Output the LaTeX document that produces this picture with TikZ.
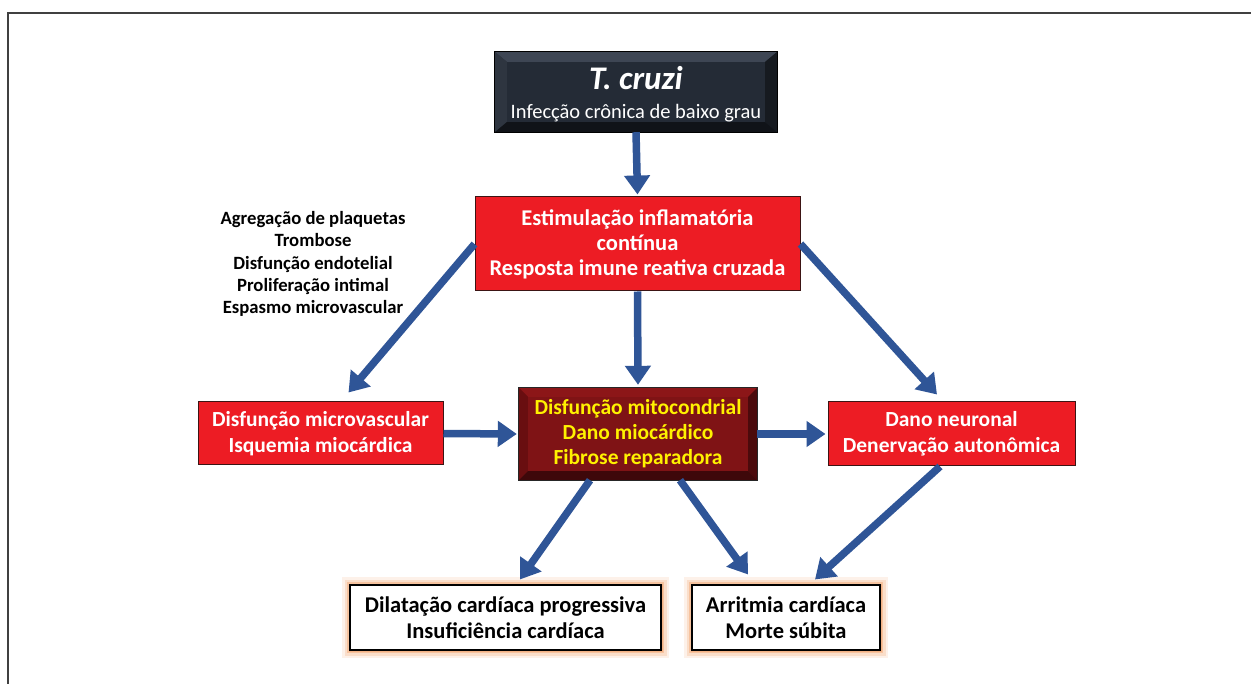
\documentclass[tikz,border=0pt]{standalone}
\usepackage{fontspec}
\setmainfont{Carlito}
\usetikzlibrary{arrows.meta,calc}
\definecolor{arrblue}{HTML}{2F5597}
\definecolor{boxred}{HTML}{ED1C24}
\definecolor{mitored}{HTML}{7F1315}
\definecolor{darkbox}{HTML}{242B36}
\definecolor{glowc}{HTML}{F4B183}
\definecolor{txtyellow}{HTML}{FFF200}
\begin{document}
\begin{tikzpicture}[x=1pt,y=-1pt,
  redbox/.style={draw={rgb,255:red,60;green,20;blue,20},line width=1pt,fill=boxred,text=white,
    font=\fontsize{22.5}{25}\selectfont\bfseries,align=center,inner sep=0pt},
  smallred/.style={redbox,font=\fontsize{21.5}{26}\selectfont\bfseries},
  glowbox/.style={draw=black,line width=1.1pt,fill=white,text=black,
    font=\fontsize{22.5}{26}\selectfont\bfseries,align=center,inner sep=0pt,
    preaction={draw=glowc,line width=16pt,draw opacity=0.18},
    preaction={draw=glowc,line width=11pt,draw opacity=0.3},
    preaction={draw=glowc,line width=6pt,draw opacity=0.6},
    preaction={draw=glowc,line width=3pt}},
  flow/.style={draw=arrblue,line width=7.5pt,-{Triangle[length=19pt,width=25pt]}},
  every node/.style={inner sep=0pt}]
\useasboundingbox (0,0) rectangle (1251,684);
\draw[line width=1.4pt,color=black!75] (8,684) -- (8,13) -- (1251,13);

% T. cruzi box with bevel
\node[fill=darkbox,minimum width=282pt,minimum height=80pt] (tc) at (636,92) {};
\fill[color={rgb,255:red,62;green,70;blue,84}] (tc.north west) -- (tc.north east) -- ($(tc.north east)+(-12,10)$) -- ($(tc.north west)+(12,10)$) -- cycle;
\fill[color={rgb,255:red,46;green,53;blue,64}] (tc.north west) -- ($(tc.north west)+(12,10)$) -- ($(tc.south west)+(12,-10)$) -- (tc.south west) -- cycle;
\fill[color={rgb,255:red,22;green,26;blue,32}] (tc.north east) -- ($(tc.north east)+(-12,10)$) -- ($(tc.south east)+(-12,-10)$) -- (tc.south east) -- cycle;
\fill[color={rgb,255:red,16;green,19;blue,24}] (tc.south west) -- ($(tc.south west)+(12,-10)$) -- ($(tc.south east)+(-12,-10)$) -- (tc.south east) -- cycle;
\draw[line width=1pt,black] (tc.north west) rectangle (tc.south east);
\node[text=white,align=center,font=\fontsize{20.5}{24}\selectfont] (tctext) at (636,94)
  {{\fontsize{33}{34}\selectfont\bfseries\itshape T. cruzi}\\[5pt]Infecção crônica de baixo grau};

% red boxes
\node[redbox,minimum width=325pt,minimum height=94pt] (inf) at (637.5,244)
  {Estimulação inflamatória\\contínua\\Resposta imune reativa cruzada};
\node[smallred,minimum width=245pt,minimum height=63pt] (mv) at (320.5,433.5)
  {Disfunção microvascular\\Isquemia miocárdica};
\node[smallred,minimum width=247pt,minimum height=64pt] (neu) at (951.5,434)
  {Dano neuronal\\Denervação autonômica};

% mito box with bevel
\node[fill=mitored,minimum width=238pt,minimum height=92pt] (mito) at (638,434) {};
\fill[color={rgb,255:red,140;green,22;blue,24}] (mito.north west) -- (mito.north east) -- ($(mito.north east)+(-9,9)$) -- ($(mito.north west)+(9,9)$) -- cycle;
\fill[color={rgb,255:red,105;green,14;blue,16}] (mito.north west) -- ($(mito.north west)+(9,9)$) -- ($(mito.south west)+(9,-9)$) -- (mito.south west) -- cycle;
\fill[color={rgb,255:red,75;green,10;blue,12}] (mito.north east) -- ($(mito.north east)+(-9,9)$) -- ($(mito.south east)+(-9,-9)$) -- (mito.south east) -- cycle;
\fill[color={rgb,255:red,62;green,8;blue,10}] (mito.south west) -- ($(mito.south west)+(9,-9)$) -- ($(mito.south east)+(-9,-9)$) -- (mito.south east) -- cycle;
\draw[line width=1.2pt,color=black!85] (mito.north west) rectangle (mito.south east);
\node[text=txtyellow,align=center,font=\fontsize{21.5}{25}\selectfont\bfseries] (mitotext) at (638,434)
  {Disfunção mitocondrial\\Dano miocárdico\\Fibrose reparadora};

% outcome boxes
\node[glowbox,minimum width=311pt,minimum height=65pt] (dil) at (505.5,617.5)
  {Dilatação cardíaca progressiva\\Insuficiência cardíaca};
\node[glowbox,minimum width=188pt,minimum height=65pt] (arr) at (786,617.5)
  {Arritmia cardíaca\\Morte súbita};

% side text
\node[align=center,font=\fontsize{18.7}{22.3}\selectfont\bfseries] (mech) at (313,264)
  {Agregação de plaquetas\\Trombose\\Disfunção endotelial\\Proliferação intimal\\Espasmo microvascular};

% arrows
\draw[flow] (tc.south) -- ($(inf.north)+(0,-2)$);
\draw[flow] (inf.south) -- ($(mito.north)+(0,-3)$);
\draw[flow] (inf.west) -- ($(mv.north)+(28,-9)$);
\draw[flow] (inf.east) -- ($(neu.north)+(-14.5,-7)$);
\draw[flow] (mv.east) -- ($(mito.west)+(-2,0)$);
\draw[flow] (mito.east) -- ($(neu.west)+(-2,0)$);
\draw[flow] ($(mito.south)+(-48,0)$) -- ($(dil.north)+(14.5,-5)$);
\draw[flow] ($(mito.south)+(42,0)$) -- ($(arr.north)+(-38,-10)$);
\draw[flow] ($(neu.south)+(-11.5,0)$) -- ($(arr.north)+(29,-5)$);
\end{tikzpicture}
\end{document}
